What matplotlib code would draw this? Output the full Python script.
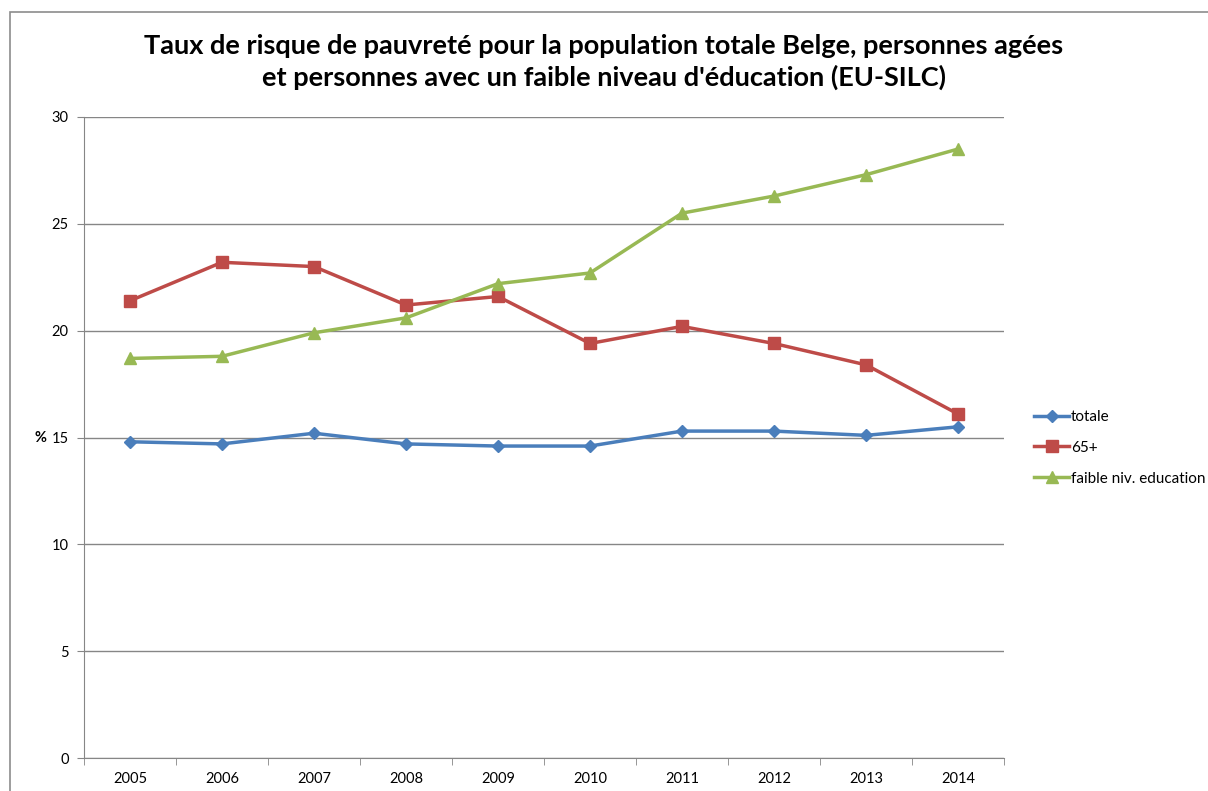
import matplotlib
matplotlib.use("Agg")
import matplotlib.pyplot as plt
from matplotlib.patches import Rectangle

plt.rcParams['font.family'] = ['Lato', 'DejaVu Sans']

years = ['2005', '2006', '2007', '2008', '2009', '2010', '2011', '2012', '2013', '2014']
totale = [14.8, 14.7, 15.2, 14.7, 14.6, 14.6, 15.3, 15.3, 15.1, 15.5]
plus65 = [21.4, 23.2, 23.0, 21.2, 21.6, 19.4, 20.2, 19.4, 18.4, 16.1]
faible = [18.7, 18.8, 19.9, 20.6, 22.2, 22.7, 25.5, 26.3, 27.3, 28.5]

title = ("Taux de risque de pauvreté pour la population totale Belge, personnes agées\n"
         "et personnes avec un faible niveau d'éducation (EU-SILC)")

fig = plt.figure(figsize=(12.08, 7.91), dpi=100)
# chart area border (Excel style), runs off right/bottom edge
fig.patches.append(Rectangle((10 / 1208, -0.1), 1.2, 1 - 12 / 791 + 0.1,
                             transform=fig.transFigure, fill=False,
                             edgecolor='#8c8c8c', linewidth=1.2))

ax = fig.add_axes([84 / 1208, 1 - 758 / 791, 920 / 1208, 641 / 791])
x = list(range(len(years)))

ax.plot(x, totale, color='#4a7ebb', linewidth=2.5, marker='D', markersize=6,
        label='totale')
ax.plot(x, plus65, color='#be4b48', linewidth=2.5, marker='s', markersize=8,
        label='65+')
ax.plot(x, faible, color='#98b954', linewidth=2.5, marker='^', markersize=8,
        label='faible niv. education')

ax.set_xlim(-0.5, len(years) - 0.5)
ax.set_ylim(0, 30)
ax.set_yticks(range(0, 31, 5))
ax.set_xticks(x)
ax.set_xticklabels(years)
ax.set_xticks([i - 0.5 for i in range(len(years) + 1)], minor=True)
ax.tick_params(axis='x', which='major', length=0, pad=10, labelsize=10.5)
ax.tick_params(axis='x', which='minor', length=5, color='#868686')
ax.tick_params(axis='y', length=5, color='#868686', labelsize=10.5, pad=6)
ax.grid(axis='y', color='#868686', linewidth=1)
ax.set_axisbelow(True)
for s in ['top', 'right']:
    ax.spines[s].set_visible(False)
for s in ['left', 'bottom']:
    ax.spines[s].set_color('#868686')

ax.set_ylabel('%', rotation=0, fontsize=10.5, fontweight='bold', labelpad=8,
              va='center')

fig.text(0.5, 1 - 62 / 791, title, ha='center', va='center', fontsize=19.5,
         fontweight='bold', linespacing=1.3)

ax.legend(loc='center left', bbox_to_anchor=(1.018, 0.484), frameon=False,
          fontsize=11, handlelength=2.3, handletextpad=0.1, labelspacing=1.1)

fig.savefig('out.png', dpi=100)
